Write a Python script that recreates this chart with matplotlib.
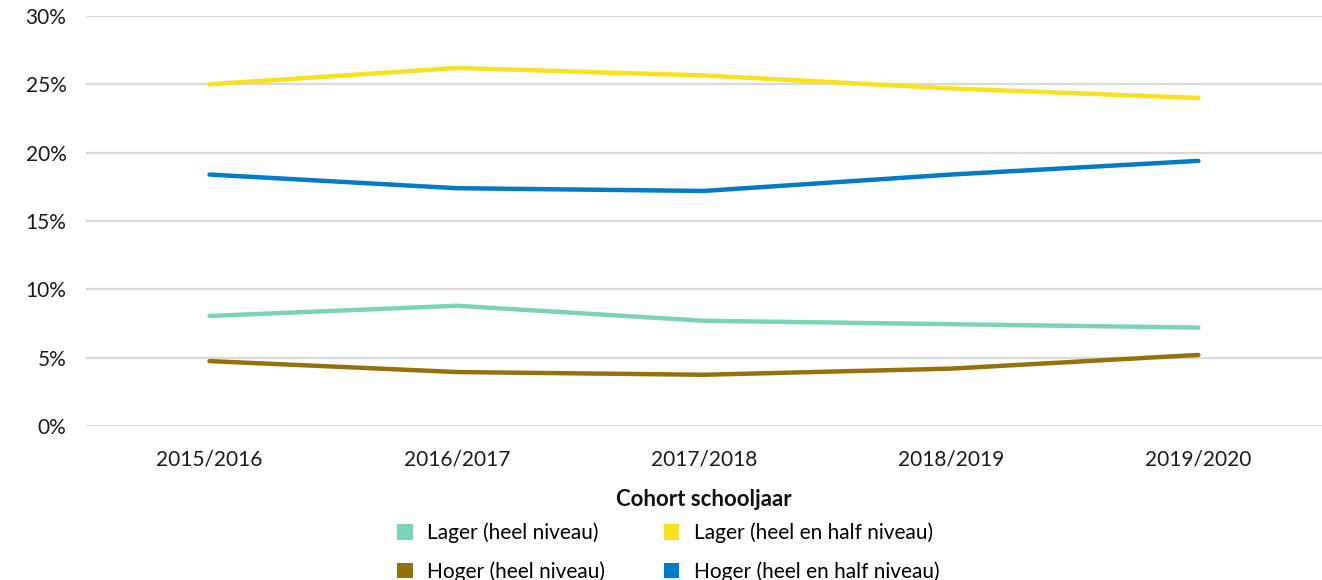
import numpy as np
import matplotlib.pyplot as plt
from matplotlib.patches import Patch

plt.rcParams['font.family'] = ['Lato', 'DejaVu Sans']

# data
years = ["2015/2016", "2016/2017", "2017/2018", "2018/2019", "2019/2020"]
lager_heel = [8.05, 8.8, 7.7, 7.45, 7.2]
hoger_heel = [4.75, 3.95, 3.75, 4.2, 5.2]
lager_half = [25.0, 26.2, 25.65, 24.7, 24.0]
hoger_half = [18.4, 17.4, 17.2, 18.4, 19.4]

series = [
    ("Lager (heel niveau)", lager_heel, "#7bd3b7"),
    ("Hoger (heel niveau)", hoger_heel, "#94710a"),
    ("Lager (heel en half niveau)", lager_half, "#f9e11e"),
    ("Hoger (heel en half niveau)", hoger_half, "#007bc7"),
]

fig = plt.figure(figsize=(13.22, 5.8), dpi=100)
ax = fig.add_axes([0.065, 0.2655, 0.935, 0.7069])

x = np.arange(len(years))
for label, vals, col in series:
    ax.plot(x, vals, color=col, lw=3.2, solid_capstyle='round', solid_joinstyle='round', zorder=3)

ax.set_xlim(-0.5, len(years) - 0.5)
ax.set_ylim(0, 30)
ax.set_yticks(np.arange(0, 31, 5))
ax.set_yticklabels([f"{v}%" for v in range(0, 31, 5)])
ax.set_xticks(x)
ax.set_xticklabels(years)
ax.grid(axis='y', color='#d9d9d9', lw=1.6)
ax.set_axisbelow(True)
for s in ax.spines.values():
    s.set_visible(False)
ax.tick_params(axis='both', length=0, labelsize=15, colors='#1a1a1a')
ax.tick_params(axis='y', pad=14)
ax.tick_params(axis='x', pad=17)
ax.set_xlabel("Cohort schooljaar", fontsize=16, fontweight='bold', labelpad=14, color='#111111')

handles = [Patch(facecolor=c, edgecolor='none', label=l) for l, _, c in series]
fig.legend(handles=handles, ncol=2, loc='upper left', bbox_to_anchor=(0.294, 0.113),
           frameon=False, fontsize=15, handlelength=0.75, handleheight=0.75,
           handletextpad=0.7, columnspacing=2.8, labelspacing=0.85, borderaxespad=0)

fig.savefig("out.png", dpi=100)
